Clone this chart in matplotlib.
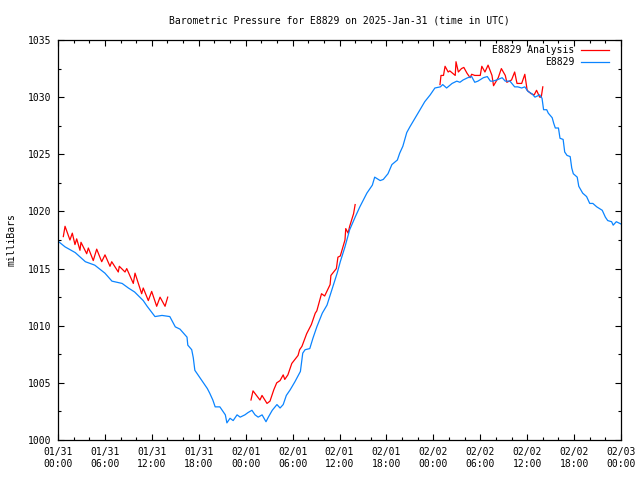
import matplotlib
matplotlib.use("Agg")
import matplotlib.pyplot as plt
import numpy as np

# hours since 2025-01-31 00:00 UTC
obs_hours = [0.0, 0.9, 2.2, 3.5, 4.7, 6.0, 6.9, 8.2, 9.0, 9.8, 10.9, 11.4, 12.4, 13.3,
             14.3, 15.0, 15.6, 16.5, 16.6, 17.1, 17.3, 17.5, 17.9, 18.5, 19.1, 19.4,
             19.8, 20.1, 20.7, 21.1, 21.4, 21.6, 22.0, 22.4, 22.9, 23.3, 23.9, 24.3,
             24.8, 25.2, 25.6, 26.1, 26.6, 26.9, 27.4, 28.0, 28.4, 28.8, 29.2, 29.7,
             30.3, 31.0, 31.3, 31.6, 32.2, 32.6, 33.1, 33.8, 34.4, 35.0, 35.7, 36.1,
             36.7, 37.3, 38.0, 38.6, 39.5, 40.2, 40.5, 41.2, 41.6, 42.2, 42.7, 43.4,
             43.7, 44.1, 44.6, 45.0, 45.7, 46.3, 46.9, 47.6, 48.2, 48.9, 49.2, 49.7,
             50.4, 51.0, 51.4, 51.8, 52.4, 52.9, 53.3, 53.7, 54.4, 54.9, 55.3, 55.6,
             56.1, 56.8, 57.2, 57.8, 58.4, 58.8, 59.3, 59.7, 60.1, 60.6, 61.0, 61.6,
             61.9, 62.1, 62.5, 62.7, 63.2, 63.4, 63.6, 64.0, 64.2, 64.6, 64.8, 65.1,
             65.5, 65.7, 65.9, 66.4, 66.6, 67.1, 67.6, 68.0, 68.4, 68.9, 69.6, 70.0,
             70.3, 70.8, 71.0, 71.4, 72.0]
obs_mb = [1017.4, 1016.9, 1016.4, 1015.6, 1015.3, 1014.6, 1013.9, 1013.7, 1013.3, 1012.95,
          1012.2, 1011.7, 1010.8, 1010.9, 1010.8, 1009.9, 1009.7, 1009.0, 1008.3, 1007.9,
          1007.2, 1006.1, 1005.7, 1005.1, 1004.5, 1004.1, 1003.5, 1002.9, 1002.9, 1002.5,
          1002.2, 1001.5, 1001.9, 1001.7, 1002.2, 1002.0, 1002.2, 1002.4, 1002.6, 1002.2,
          1002.0, 1002.2, 1001.6, 1002.0, 1002.6, 1003.1, 1002.8, 1003.1, 1003.9, 1004.4,
          1005.1, 1006.0, 1007.6, 1007.9, 1008.0, 1008.9, 1009.9, 1011.1, 1011.8, 1013.1,
          1014.6, 1015.6, 1016.9, 1018.4, 1019.5, 1020.4, 1021.6, 1022.3, 1023.0, 1022.7,
          1022.8, 1023.3, 1024.1, 1024.5, 1025.1, 1025.7, 1026.9, 1027.4, 1028.2, 1028.9,
          1029.6, 1030.2, 1030.8, 1030.9, 1031.1, 1030.8, 1031.2, 1031.4, 1031.3, 1031.5,
          1031.7, 1031.8, 1031.3, 1031.4, 1031.7, 1031.8, 1031.4, 1031.4, 1031.5, 1031.7,
          1031.4, 1031.4, 1030.9, 1030.9, 1030.8, 1030.9, 1030.5, 1030.3, 1030.0, 1030.2,
          1029.9, 1028.9, 1028.9, 1028.6, 1028.2, 1027.7, 1027.3, 1027.3, 1026.4, 1026.3,
          1025.2, 1024.9, 1024.8, 1023.8, 1023.3, 1023.0, 1022.2, 1021.6, 1021.3, 1020.7,
          1020.7, 1020.4, 1020.1, 1019.5, 1019.2, 1019.1, 1018.8, 1019.1, 1018.9]

# analysis: three separate runs
ana1_hours = [0.68, 0.9, 1.53, 1.83, 2.17, 2.39, 2.81, 2.94, 3.67, 3.88, 4.51, 4.95,
              5.59, 6.01, 6.65, 6.87, 7.71, 7.84, 8.57, 8.79, 9.63, 9.85, 10.7, 10.9,
              11.55, 11.98, 12.62, 13.05, 13.69, 14.03]
ana1_mb = [1017.8, 1018.7, 1017.5, 1018.1, 1017.1, 1017.6, 1016.6, 1017.3, 1016.3, 1016.8,
           1015.7, 1016.7, 1015.6, 1016.2, 1015.2, 1015.6, 1014.7, 1015.2, 1014.7, 1015.0,
           1013.7, 1014.6, 1012.8, 1013.3, 1012.2, 1013.0, 1011.7, 1012.5, 1011.7, 1012.5]

ana2_hours = [24.68, 24.94, 25.83, 26.09, 26.73, 27.11, 27.6, 27.97, 28.4, 28.8, 29.0,
              29.4, 29.9, 30.7, 30.9, 31.2, 31.8, 32.4, 32.9, 33.1, 33.7, 34.1, 34.8,
              34.9, 35.6, 35.8, 36.1, 36.7, 36.8, 37.1, 37.3, 37.8, 38.0]
ana2_mb = [1003.5, 1004.3, 1003.5, 1003.9, 1003.2, 1003.4, 1004.4, 1005.0, 1005.2, 1005.7,
           1005.3, 1005.7, 1006.7, 1007.4, 1007.9, 1008.2, 1009.3, 1010.1, 1011.1, 1011.3,
           1012.8, 1012.6, 1013.6, 1014.4, 1015.0, 1016.0, 1016.1, 1017.5, 1018.5, 1018.1,
           1018.7, 1019.8, 1020.6]

ana3_hours = [48.85, 48.98, 49.3, 49.5, 49.9, 50.1, 50.8, 50.9, 51.2, 51.6, 51.9, 52.3,
              52.7, 52.9, 53.3, 54.0, 54.2, 54.6, 55.0, 55.5, 55.7, 56.3, 56.7, 57.2,
              57.4, 58.0, 58.4, 58.7, 59.3, 59.7, 60.0, 60.5, 60.9, 61.2, 61.6, 61.8, 62.0]
ana3_mb = [1031.1, 1031.9, 1031.9, 1032.7, 1032.2, 1032.3, 1031.9, 1033.1, 1032.2, 1032.5,
           1032.6, 1032.1, 1031.7, 1032.0, 1031.9, 1031.9, 1032.7, 1032.2, 1032.8, 1031.9,
           1031.0, 1031.7, 1032.5, 1031.9, 1031.3, 1031.5, 1032.2, 1031.2, 1031.2, 1032.0,
           1030.6, 1030.3, 1030.2, 1030.6, 1030.0, 1030.0, 1030.9]

tick_hours = list(range(0, 73, 6))
tick_labels = ["01/31\n00:00", "01/31\n06:00", "01/31\n12:00", "01/31\n18:00",
               "02/01\n00:00", "02/01\n06:00", "02/01\n12:00", "02/01\n18:00",
               "02/02\n00:00", "02/02\n06:00", "02/02\n12:00", "02/02\n18:00",
               "02/03\n00:00"]

plt.rcParams['font.family'] = ['DejaVu Sans Mono']
plt.rcParams['font.size'] = 7

fig = plt.figure(figsize=(6.4, 4.8), dpi=100)
ax = fig.add_axes([58/640, 40/480, 563/640, 400/480])

red = '#ff0000'
blue = '#0a84ff'

ax.plot(ana1_hours, ana1_mb, color=red, lw=0.9, label='E8829 Analysis')
ax.plot(ana2_hours, ana2_mb, color=red, lw=0.9)
ax.plot(ana3_hours, ana3_mb, color=red, lw=0.9)
ax.plot(obs_hours, obs_mb, color=blue, lw=0.9, label='E8829')

ax.set_xlim(0, 72)
ax.set_ylim(1000, 1035)
ax.set_xticks(tick_hours)
ax.set_xticklabels(tick_labels)
ax.set_xticks(np.arange(0, 73, 2), minor=True)
ax.set_yticks(np.arange(1000, 1036, 5))
ax.set_yticks(np.arange(1000, 1036, 2.5), minor=True)

ax.tick_params(which='both', direction='in', top=True, right=True, width=0.8)
ax.tick_params(which='major', length=4)
ax.tick_params(which='minor', length=2.5)
ax.tick_params(axis='x', pad=5)
ax.tick_params(axis='y', pad=4.5)
for s in ax.spines.values():
    s.set_linewidth(0.9)

ax.set_title("Barometric Pressure for E8829 on 2025-Jan-31 (time in UTC)",
             fontsize=7, pad=12)
ax.set_ylabel("milliBars", fontsize=7)
ax.yaxis.set_label_coords(-0.0746, 0.5)

ax.legend(loc='upper right', bbox_to_anchor=((609.3 - 58) / 563, 1 - 5 / 400),
          markerfirst=False, frameon=False, borderpad=0, borderaxespad=0,
          handlelength=2.9, handletextpad=0.7, labelspacing=0.2)

plt.savefig("out.png", dpi=100)
